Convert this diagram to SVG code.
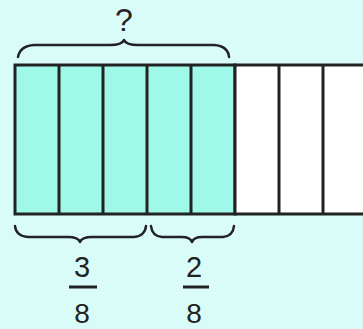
<svg xmlns="http://www.w3.org/2000/svg" width="363" height="329" viewBox="0 0 363 329">
<style>
.cell{stroke:#222;stroke-width:3}
.brace{fill:none;stroke:#222;stroke-width:2.5;stroke-linecap:round;stroke-linejoin:round}
.t{font-family:"Liberation Sans",Arial,sans-serif;fill:#222;text-anchor:middle}
</style>
<rect x="0" y="0" width="363" height="329" fill="#dafcf9"/>
<g id="bar">
<rect class="cell" x="15" y="65" width="220" height="149" fill="#a0f8e8"/>
<rect class="cell" x="235" y="65" width="140" height="149" fill="#ffffff"/>
<line class="cell" x1="59" y1="65" x2="59" y2="214"/>
<line class="cell" x1="103" y1="65" x2="103" y2="214"/>
<line class="cell" x1="147" y1="65" x2="147" y2="214"/>
<line class="cell" x1="191" y1="65" x2="191" y2="214"/>
<line class="cell" x1="279" y1="65" x2="279" y2="214"/>
<line class="cell" x1="323" y1="65" x2="323" y2="214"/>
</g>
<g id="top-brace">
<path class="brace" d="M18,57 Q20,46 34,45 L110,45 Q122,45 124,40 Q126,45 138,45 L214,45 Q228,46 229,57"/>
<text class="t" x="124" y="31" font-size="32">?</text>
</g>
<g id="brace-3-8">
<path class="brace" d="M15,226 Q16,236 28,237 L68,237 Q78,237 80,242 Q82,237 92,237 L134,237 Q145,236 146,226"/>
<text class="t" x="82" y="277" font-size="29">3</text>
<line x1="69" y1="287" x2="97" y2="287" stroke="#222" stroke-width="3"/>
<text class="t" x="82" y="323" font-size="28">8</text>
</g>
<g id="brace-2-8">
<path class="brace" d="M151,226 Q152,236 162,237 L182,237 Q190,237 192,242 Q194,237 202,237 L223,237 Q233,236 234,226"/>
<text class="t" x="194" y="277" font-size="29">2</text>
<line x1="183" y1="287" x2="209" y2="287" stroke="#222" stroke-width="3"/>
<text class="t" x="194" y="323" font-size="28">8</text>
</g>
</svg>
